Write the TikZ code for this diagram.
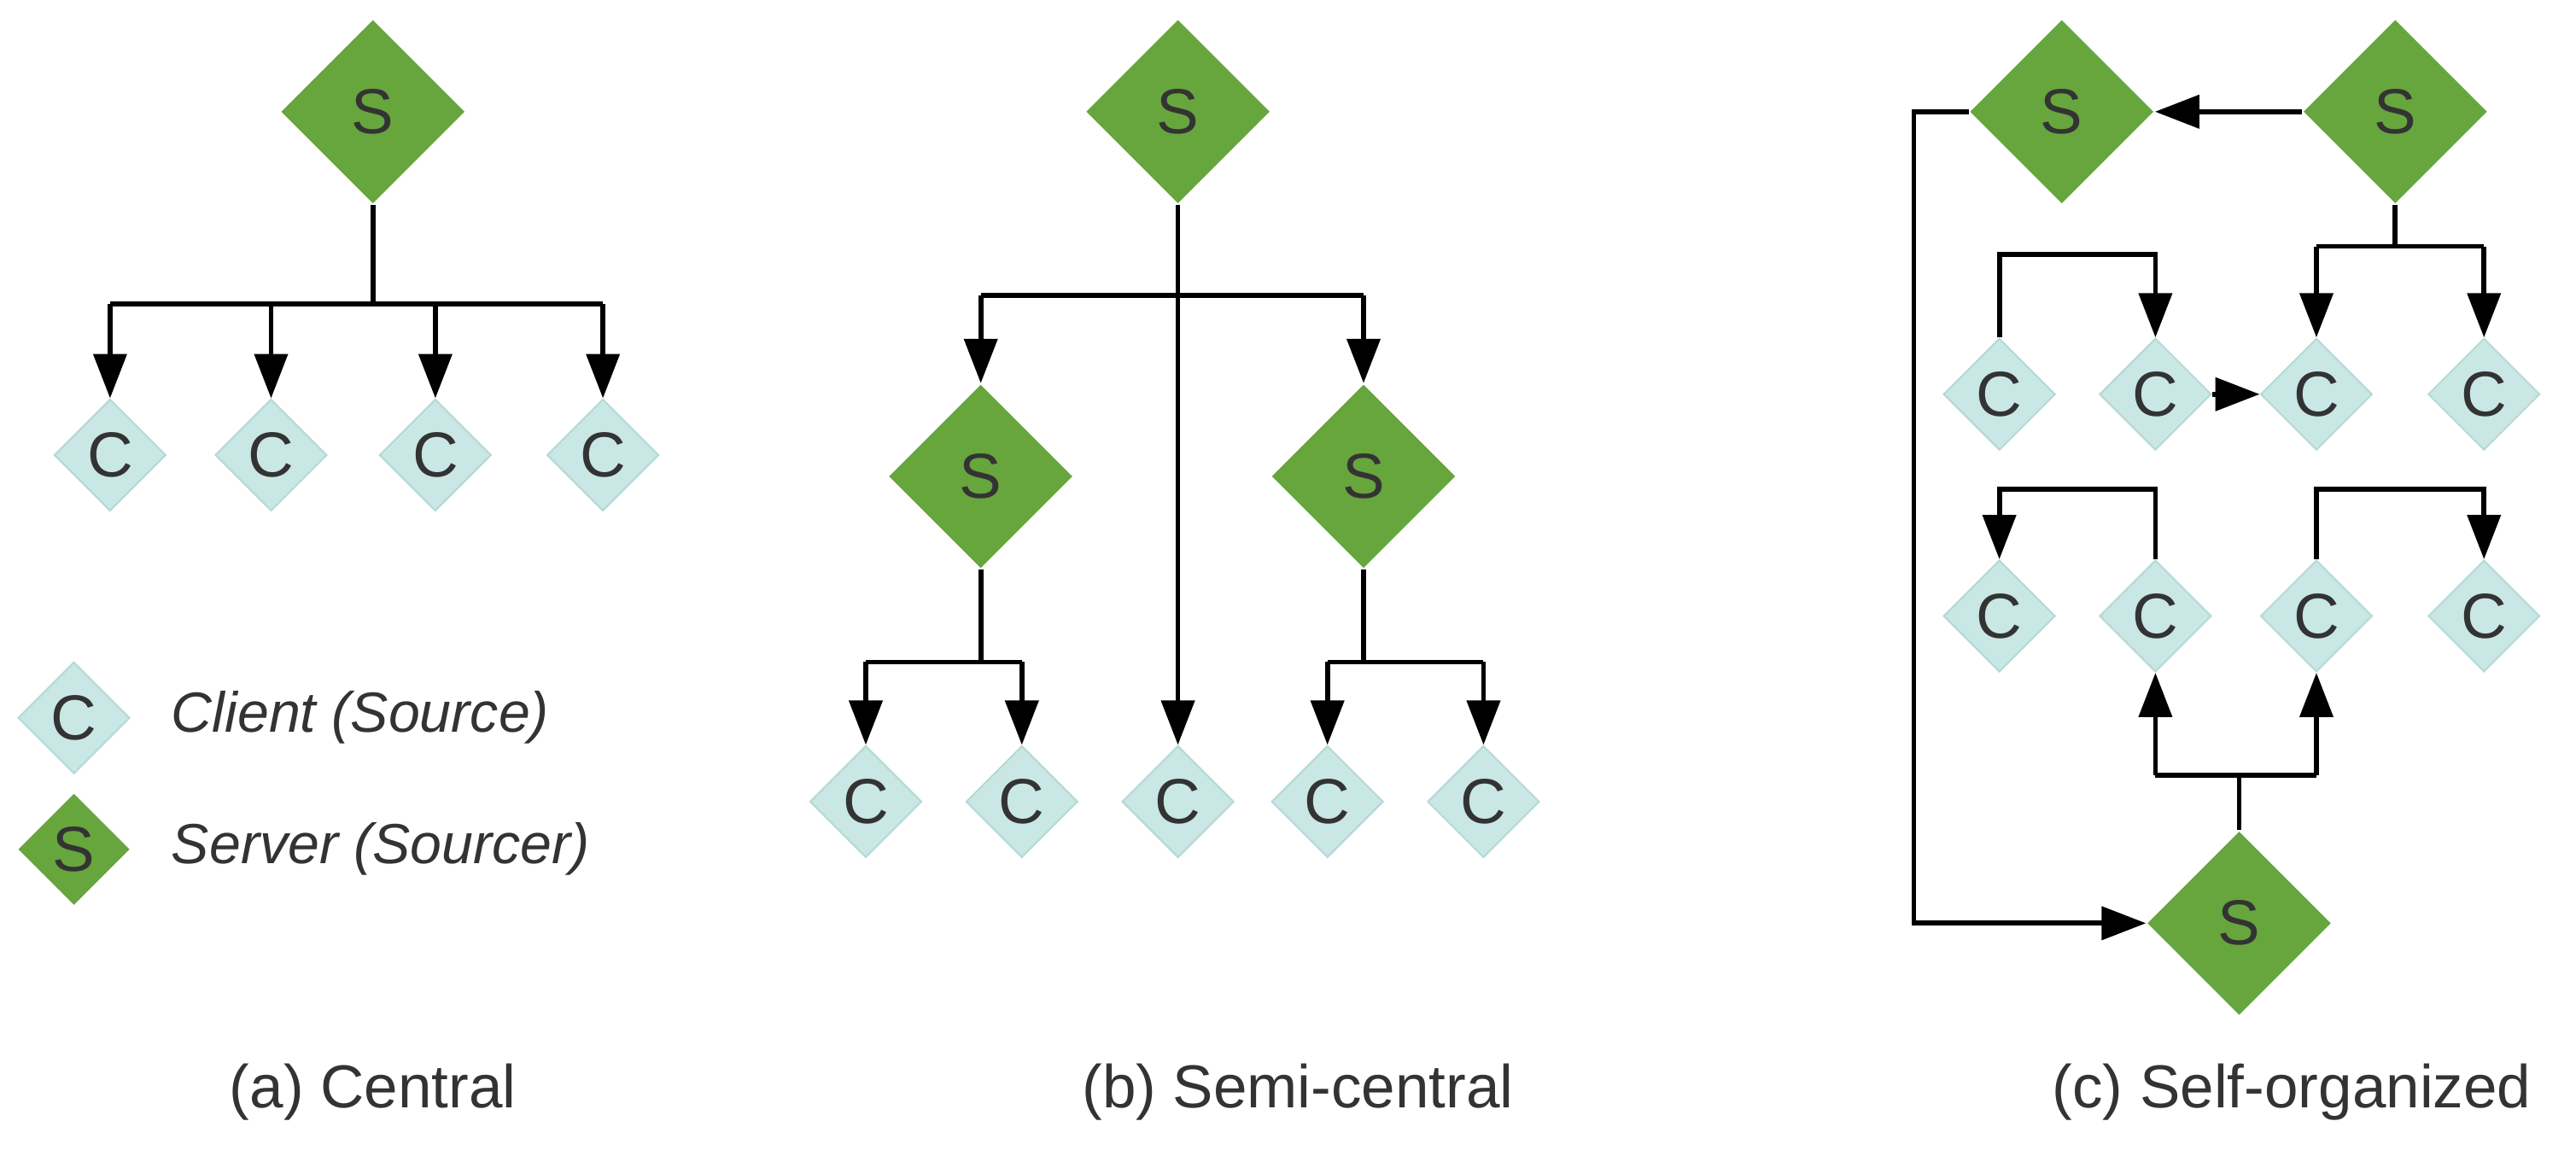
\documentclass[tikz,border=0pt]{standalone}
\usepackage{fontspec}
\setmainfont{Liberation Sans}
\usetikzlibrary{shapes.geometric,arrows.meta}
\definecolor{sg}{HTML}{67A53D}
\definecolor{cc}{HTML}{C9E7E4}
\definecolor{cb}{HTML}{B5D9D6}
\definecolor{tx}{HTML}{333333}
\begin{document}
\begin{tikzpicture}[x=0.01cm,y=-0.01cm,
 S/.style={diamond,fill=sg,draw=none,minimum width=1.12cm,minimum height=1.12cm,inner sep=0pt,text=tx,font=\fontsize{11}{13}\selectfont},
 C/.style={diamond,fill=cc,draw=cb,line width=0.3pt,minimum width=0.68cm,minimum height=0.68cm,inner sep=0pt,text=tx,font=\fontsize{11}{13}\selectfont},
 ln/.style={line width=0.85pt,black},
 ar/.style={ln,-{Triangle[length=0.27cm,width=0.2cm]}},
 captxt/.style={text=tx,font=\fontsize{10.5}{12}\selectfont},
 leg/.style={text=tx,anchor=west,font=\itshape\fontsize{9.8}{11}\selectfont}]
\useasboundingbox (0,0) rectangle (1568,707);
% (a)
\node[S] (aS) at (227,68) {S};
\foreach \x/\n in {67/1,165/2,265/3,367/4}{\node[C] (aC\n) at (\x,277) {C};}
\draw[ln] (aS.south) -- (227,185);
\draw[ln] (67,185) -- (367,185);
\foreach \n in {1,2,3,4}{\draw[ar] (aC\n.north |- 0,185) -- (aC\n.north);}
\node[C] (lC) at (45,437) {C};
\node[leg] (lCt) at (92,437) {Client (Source)};
\node[C,fill=sg,draw=none] (lS) at (45,517) {S};
\node[leg] (lSt) at (92,517) {Server (Sourcer)};
\node[captxt] (capa) at (227,665) {(a) Central};
% (b)
\node[S] (bS) at (717,68) {S};
\node[S] (bS1) at (597,290) {S};
\node[S] (bS2) at (830,290) {S};
\node[C] (bC1) at (527,488) {C};
\node[C] (bC2) at (622,488) {C};
\node[C] (bC3) at (717,488) {C};
\node[C] (bC4) at (808,488) {C};
\node[C] (bC5) at (903,488) {C};
\draw[ar] (bS.south) -- (bC3.north);
\draw[ln] (597,180) -- (830,180);
\draw[ar] (597,180) -- (bS1.north);
\draw[ar] (830,180) -- (bS2.north);
\draw[ln] (bS1.south) -- (597,403);
\draw[ln] (527,403) -- (622,403);
\draw[ar] (527,403) -- (bC1.north);
\draw[ar] (622,403) -- (bC2.north);
\draw[ln] (bS2.south) -- (830,403);
\draw[ln] (808,403) -- (903,403);
\draw[ar] (808,403) -- (bC4.north);
\draw[ar] (903,403) -- (bC5.north);
\node[captxt] (capb) at (790,665) {(b) Semi-central};
% (c)
\node[S] (cS1) at (1255,68) {S};
\node[S] (cS2) at (1458,68) {S};
\node[S] (cS3) at (1363,562) {S};
\foreach \x/\n in {1217/1,1312/2,1410/3,1512/4}{
 \node[C] (r\n) at (\x,240) {C};
 \node[C] (q\n) at (\x,375) {C};}
\draw[ar] (cS2.west) -- (cS1.east);
\draw[ln] (cS2.south) -- (1458,150);
\draw[ln] (1410,150) -- (1512,150);
\draw[ar] (1410,150) -- (r3.north);
\draw[ar] (1512,150) -- (r4.north);
\draw[ar] (r1.north) -- (1217,155) -- (1312,155) -- (r2.north);
\draw[ar] (r2.east) -- (r3.west);
\draw[ar] (q2.north) -- (1312,298) -- (1217,298) -- (q1.north);
\draw[ar] (q3.north) -- (1410,298) -- (1512,298) -- (q4.north);
\draw[ln] (cS3.north) -- (1363,472);
\draw[ln] (1312,472) -- (1410,472);
\draw[ar] (1312,472) -- (q2.south);
\draw[ar] (1410,472) -- (q3.south);
\draw[ar] (cS1.west) -- (1165,68) -- (1165,562) -- (cS3.west);
\node[captxt] (capc) at (1395,665) {(c) Self-organized};
\end{tikzpicture}
\end{document}
